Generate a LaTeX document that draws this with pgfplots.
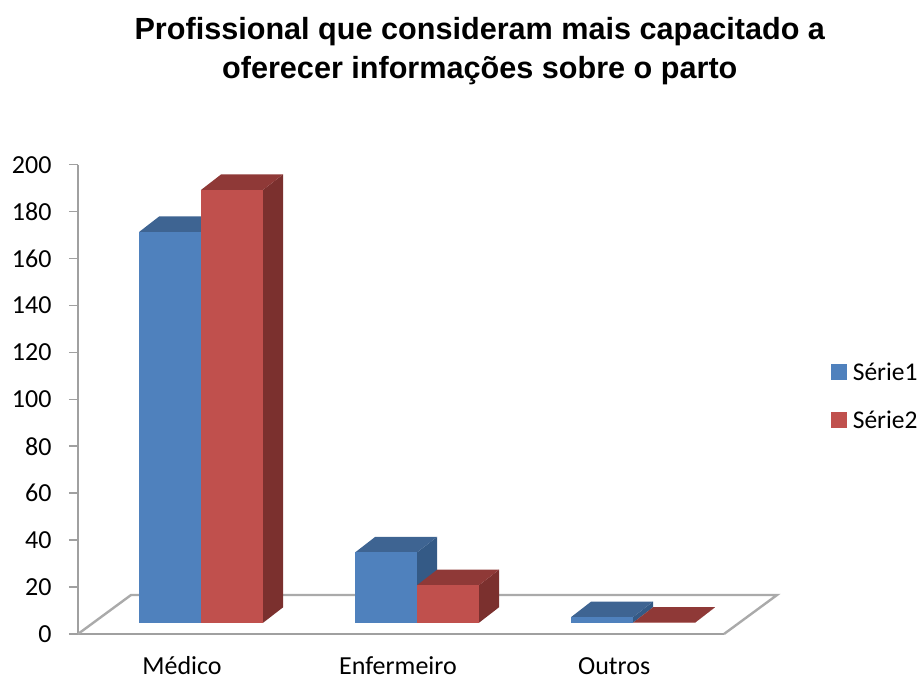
\documentclass[border=0pt]{standalone}
\usepackage{fontspec}
\setmainfont{Carlito}
\newfontfamily\titlefont{Liberation Sans}
\usepackage{pgfplots}
\pgfplotsset{compat=1.18}
\definecolor{bluef}{HTML}{4F81BD}
\definecolor{bluet}{HTML}{3E6492}
\definecolor{blues}{HTML}{345A86}
\definecolor{redf}{HTML}{C0504D}
\definecolor{redt}{HTML}{8F3937}
\definecolor{reds}{HTML}{7B302E}
\definecolor{axisgray}{HTML}{A0A0A0}
% bar(left x, value, front, top, side): front face starts at floor offset 4.8, depth .093/6.6
\newcommand{\threedbar}[5]{%
  \pgfmathsetmacro{\xa}{#1}%
  \pgfmathsetmacro{\xb}{#1+0.2875}%
  \pgfmathsetmacro{\xc}{#1+0.2875+0.093}%
  \pgfmathsetmacro{\xd}{#1+0.093}%
  \pgfmathsetmacro{\ya}{4.8}%
  \pgfmathsetmacro{\yb}{4.8+#2}%
  \pgfmathsetmacro{\yc}{4.8+#2+6.6}%
  \pgfmathsetmacro{\ye}{4.8+6.6}%
  \addplot[fill=#5,draw=none,forget plot] coordinates {(\xb,\ya)(\xc,\ye)(\xc,\yc)(\xb,\yb)} -- cycle;
  \addplot[fill=#4,draw=none,forget plot] coordinates {(\xa,\yb)(\xb,\yb)(\xc,\yc)(\xd,\yc)} -- cycle;
  \addplot[fill=#3,draw=none,forget plot] coordinates {(\xa,\ya)(\xb,\ya)(\xb,\yb)(\xa,\yb)} -- cycle;
}
\begin{document}
\begin{tikzpicture}
\path[use as bounding box] (-78pt,-43pt) rectangle (843pt,634pt);
\begin{axis}[
  scale only axis, width=646pt, height=469.3pt,
  xmin=0, xmax=3, ymin=0, ymax=200,
  clip=false,
  axis lines=left,
  axis line style={-, draw=axisgray, line width=2.4pt},
  ytick={0,20,...,200},
  xtick={0.483,1.486,2.49},
  xticklabels={Médico,Enfermeiro,Outros},
  tick align=outside,
  major tick length=9pt,
  ytick style={draw=axisgray, line width=1.6pt},
  xtick style={draw=none},
  tick label style={font=\fontsize{26}{26}\selectfont},
  xticklabel style={yshift=-13.5pt, text height=18pt, text depth=0pt, inner ysep=0pt},
  /pgf/number format/assume math mode=true,
  yticklabel style={xshift=-14pt},
  title={Profissional que consideram mais capacitado a\\ oferecer informações sobre o parto},
  title style={at={(0.622,1.149)},anchor=south,align=center,
    font=\titlefont\bfseries\fontsize{30.6}{39}\selectfont},
  legend cell align=left,
  legend style={at={(1.166,0.507)},anchor=west,draw=none,fill=none,inner sep=0pt,
    font=\fontsize{25.5}{25.5}\selectfont,row sep=25pt,
    nodes={inner xsep=6pt}},
  legend image code/.code={\fill[#1] (0pt,-7.5pt) rectangle (15pt,7.5pt);},
]
\addplot[draw=axisgray!90,line width=2.4pt,forget plot] coordinates {(0,0)(0.246,16.6)(3.246,16.6)(3,0)};
\threedbar{0.2847}{166.6}{bluef}{bluet}{blues}
\threedbar{0.5722}{184.5}{redf}{redt}{reds}
\threedbar{1.2873}{30}{bluef}{bluet}{blues}
\threedbar{1.5748}{16}{redf}{redt}{reds}
\threedbar{2.2899}{2.4}{bluef}{bluet}{blues}
\threedbar{2.5774}{0}{redf}{redt}{reds}
\addlegendimage{bluef}
\addlegendentry{Série1}
\addlegendimage{redf}
\addlegendentry{Série2}
\end{axis}
\end{tikzpicture}
\end{document}
